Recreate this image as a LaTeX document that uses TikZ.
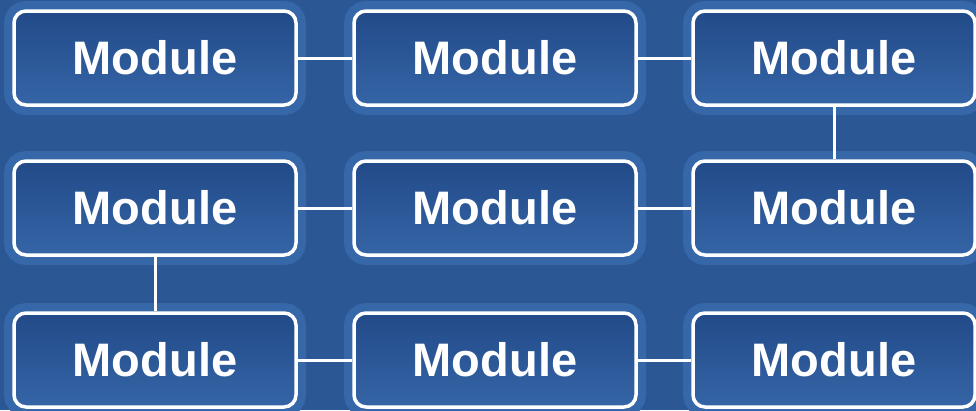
\documentclass[tikz,border=0pt]{standalone}
\usepackage{fontspec}
\setmainfont{Liberation Sans}
\usepackage{tikz}

\definecolor{bgblue}{RGB}{43,87,148}
\definecolor{haloblue}{RGB}{54,103,168}
\definecolor{boxtop}{RGB}{34,74,136}
\definecolor{boxbot}{RGB}{53,101,167}

\tikzset{
  module/.style={rectangle, rounded corners=12pt, draw=white, line width=3.5pt,
    top color=boxtop, bottom color=boxbot,
    preaction={draw=haloblue, line width=20pt},
    minimum width=282pt, minimum height=94pt, inner sep=0pt,
    text=white, font=\bfseries\fontsize{47}{50}\selectfont},
  link/.style={draw=white, line width=3pt}
}

\begin{document}
\begin{tikzpicture}[x=1pt, y=-1pt]
                % Canvas
                \useasboundingbox (0,0) rectangle (976,410);
                \fill[bgblue] (0,0) rectangle (976,410);

                % Top row
                \node[module] (m11) at (155,58) {Module};
                \node[module] (m12) at (495,58) {Module};
                \node[module] (m13) at (834,58) {Module};

                % Middle row
                \node[module] (m21) at (155,208) {Module};
                \node[module] (m22) at (495,208) {Module};
                \node[module] (m23) at (834,208) {Module};

                % Bottom row
                \node[module] (m31) at (155,360) {Module};
                \node[module] (m32) at (495,360) {Module};
                \node[module] (m33) at (834,360) {Module};

                % Links along the rows
                \draw[link] (m11) -- (m12);
                \draw[link] (m12) -- (m13);
                \draw[link] (m21) -- (m22);
                \draw[link] (m22) -- (m23);
                \draw[link] (m31) -- (m32);
                \draw[link] (m32) -- (m33);

                % Links between the rows
                \draw[link] (m13) -- (m23);
                \draw[link] (m21) -- (m31);
\end{tikzpicture}
\end{document}
